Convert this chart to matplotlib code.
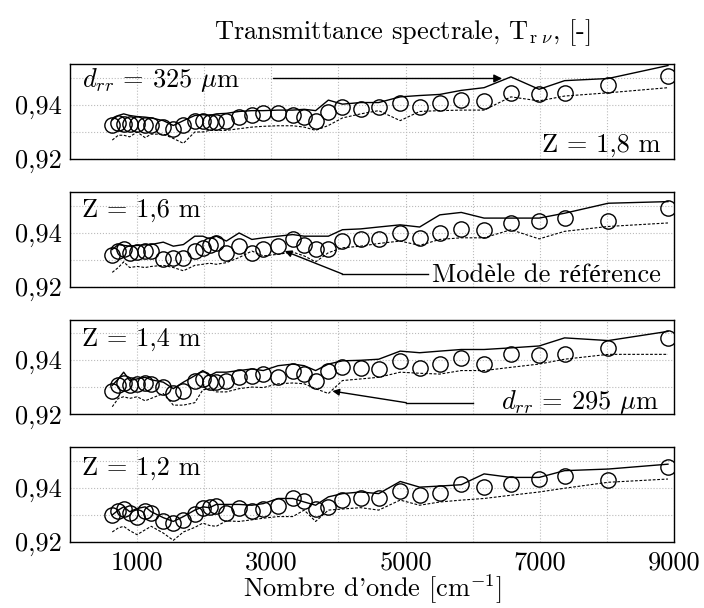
import numpy as np
import matplotlib
matplotlib.use("Agg")
import matplotlib.pyplot as plt

plt.rcParams['font.family'] = ['cmr10', 'Liberation Serif']
plt.rcParams['mathtext.fontset'] = 'cm'
plt.rcParams['axes.unicode_minus'] = False
plt.rcParams['axes.formatter.use_mathtext'] = True

# wavenumbers [cm-1]
nu = [630, 720, 800, 890, 1000, 1120, 1210, 1390, 1540, 1690, 1860, 1980,
      2080, 2180, 2330, 2520, 2710, 2880, 3100, 3320, 3490, 3660, 3850, 4060,
      4330, 4600, 4920, 5210, 5510, 5830, 6170, 6570, 6990, 7370, 8020, 8910]

# Z = 1,8 m
mes_18 = [0.9324, 0.9333, 0.9330, 0.9328, 0.9328, 0.9327, 0.9324, 0.9318, 0.9312,
          0.9324, 0.9342, 0.9342, 0.9336, 0.9336, 0.9342, 0.9355, 0.9364, 0.9369,
          0.9369, 0.9363, 0.9357, 0.9342, 0.9373, 0.9391, 0.9385, 0.9391, 0.9409,
          0.9393, 0.9409, 0.9418, 0.9415, 0.9445, 0.9439, 0.9445, 0.9473, 0.9506]
d325_18 = [0.9345, 0.9361, 0.9367, 0.9361, 0.9357, 0.9355, 0.9352, 0.9342, 0.9324,
           0.9342, 0.9361, 0.9364, 0.9361, 0.9367, 0.9369, 0.9376, 0.9379, 0.9379,
           0.9381, 0.9381, 0.9384, 0.9379, 0.9418, 0.9403, 0.9409, 0.9409, 0.9430,
           0.9435, 0.9439, 0.9454, 0.9464, 0.9504, 0.9458, 0.9490, 0.9498, 0.9546]
d295_18 = [0.9270, 0.9288, 0.9288, 0.9282, 0.9300, 0.9279, 0.9292, 0.9292, 0.9276,
           0.9258, 0.9300, 0.9300, 0.9306, 0.9306, 0.9306, 0.9312, 0.9318, 0.9321,
           0.9323, 0.9323, 0.9318, 0.9306, 0.9324, 0.9352, 0.9367, 0.9379, 0.9342,
           0.9376, 0.9379, 0.9381, 0.9381, 0.9430, 0.9415, 0.9433, 0.9445, 0.9464]

# Z = 1,6 m
mes_16 = [0.9317, 0.9333, 0.9339, 0.9327, 0.9329, 0.9333, 0.9335, 0.9302, 0.9309,
          0.9309, 0.9333, 0.9345, 0.9357, 0.9363, 0.9327, 0.9351, 0.9327, 0.9341,
          0.9351, 0.9376, 0.9357, 0.9341, 0.9341, 0.9370, 0.9376, 0.9376, 0.9400,
          0.9382, 0.9400, 0.9415, 0.9412, 0.9437, 0.9443, 0.9455, 0.9443, 0.9491]
d325_16 = [0.9339, 0.9357, 0.9354, 0.9351, 0.9354, 0.9356, 0.9357, 0.9366, 0.9351,
           0.9357, 0.9388, 0.9388, 0.9378, 0.9388, 0.9370, 0.9400, 0.9376, 0.9382,
           0.9388, 0.9394, 0.9388, 0.9388, 0.9388, 0.9412, 0.9415, 0.9422, 0.9430,
           0.9422, 0.9467, 0.9476, 0.9455, 0.9455, 0.9455, 0.9473, 0.9510, 0.9516]
d295_16 = [0.9254, 0.9272, 0.9293, 0.9272, 0.9276, 0.9272, 0.9276, 0.9280, 0.9272,
           0.9260, 0.9280, 0.9284, 0.9288, 0.9284, 0.9290, 0.9309, 0.9333, 0.9315,
           0.9321, 0.9329, 0.9315, 0.9293, 0.9327, 0.9345, 0.9351, 0.9361, 0.9370,
           0.9354, 0.9376, 0.9382, 0.9382, 0.9412, 0.9378, 0.9406, 0.9424, 0.9437]

# Z = 1,4 m
mes_14 = [0.9285, 0.9306, 0.9315, 0.9306, 0.9312, 0.9315, 0.9310, 0.9300, 0.9278,
          0.9285, 0.9324, 0.9330, 0.9318, 0.9318, 0.9324, 0.9336, 0.9342, 0.9348,
          0.9336, 0.9361, 0.9348, 0.9324, 0.9361, 0.9375, 0.9370, 0.9367, 0.9397,
          0.9370, 0.9385, 0.9409, 0.9387, 0.9424, 0.9419, 0.9421, 0.9443, 0.9482]
d325_14 = [0.9306, 0.9330, 0.9355, 0.9324, 0.9330, 0.9336, 0.9327, 0.9318, 0.9294,
           0.9318, 0.9342, 0.9361, 0.9342, 0.9355, 0.9355, 0.9361, 0.9367, 0.9361,
           0.9379, 0.9385, 0.9379, 0.9361, 0.9385, 0.9397, 0.9399, 0.9403, 0.9433,
           0.9427, 0.9433, 0.9439, 0.9439, 0.9445, 0.9452, 0.9482, 0.9472, 0.9506]
d295_14 = [0.9227, 0.9258, 0.9264, 0.9258, 0.9264, 0.9249, 0.9258, 0.9276, 0.9233,
           0.9233, 0.9242, 0.9290, 0.9294, 0.9282, 0.9282, 0.9294, 0.9300, 0.9298,
           0.9312, 0.9315, 0.9312, 0.9294, 0.9276, 0.9324, 0.9330, 0.9336, 0.9355,
           0.9351, 0.9348, 0.9361, 0.9361, 0.9373, 0.9385, 0.9403, 0.9421, 0.9421]

# Z = 1,2 m
mes_12 = [0.9300, 0.9315, 0.9322, 0.9306, 0.9294, 0.9316, 0.9306, 0.9278, 0.9270,
          0.9282, 0.9304, 0.9324, 0.9330, 0.9333, 0.9306, 0.9324, 0.9315, 0.9321,
          0.9333, 0.9363, 0.9351, 0.9322, 0.9330, 0.9355, 0.9364, 0.9361, 0.9387,
          0.9373, 0.9381, 0.9415, 0.9403, 0.9415, 0.9433, 0.9445, 0.9430, 0.9476]
d325_12 = [0.9300, 0.9318, 0.9330, 0.9312, 0.9324, 0.9330, 0.9312, 0.9290, 0.9276,
           0.9294, 0.9318, 0.9330, 0.9327, 0.9339, 0.9339, 0.9339, 0.9336, 0.9342,
           0.9361, 0.9361, 0.9348, 0.9336, 0.9367, 0.9379, 0.9385, 0.9379, 0.9424,
           0.9403, 0.9407, 0.9412, 0.9452, 0.9439, 0.9439, 0.9464, 0.9470, 0.9488]
d295_12 = [0.9237, 0.9252, 0.9258, 0.9242, 0.9227, 0.9245, 0.9258, 0.9233, 0.9206,
           0.9237, 0.9254, 0.9270, 0.9261, 0.9258, 0.9278, 0.9276, 0.9282, 0.9288,
           0.9294, 0.9294, 0.9318, 0.9276, 0.9318, 0.9322, 0.9327, 0.9318, 0.9355,
           0.9336, 0.9348, 0.9355, 0.9361, 0.9373, 0.9385, 0.9399, 0.9421, 0.9433]

heights = ['1,8', '1,6', '1,4', '1,2']
mesures = [mes_18, mes_16, mes_14, mes_12]
calc_325 = [d325_18, d325_16, d325_14, d325_12]
calc_295 = [d295_18, d295_16, d295_14, d295_12]

xticks = [1000, 2000, 3000, 4000, 5000, 6000, 7000, 8000, 9000]
xticklabels = ['1000', '', '3000', '', '5000', '', '7000', '', '9000']
yticks = [0.92, 0.93, 0.94, 0.95]
yticklabels = ['0,92', '', '0,94', '']

fs = 19
fig = plt.figure(figsize=(7.04, 6.08), dpi=100)
bottoms = [0.7385, 0.528, 0.319, 0.1086]
axes = []
for i in range(4):
    ax = fig.add_axes([0.0994, bottoms[i], 0.858, 0.1555])
    ax.plot(nu, calc_325[i], color='black', lw=1.0)
    ax.plot(nu, calc_295[i], color='black', lw=0.8, dashes=(2.5, 1.5))
    ax.plot(nu, mesures[i], 'o', mfc='none', mec='black', ms=11, mew=1.0)
    ax.set_xlim(0, 9000)
    ax.set_ylim(0.92, 0.955)
    ax.set_xticks(xticks)
    ax.set_yticks(yticks)
    ax.set_yticklabels(yticklabels)
    if i == 3:
        ax.set_xticklabels(xticklabels)
    else:
        ax.set_xticklabels([])
    ax.tick_params(length=0, labelsize=fs, pad=6)
    ax.grid(True, color='#bbbbbb', linestyle=':', lw=0.8)
    ax.set_axisbelow(True)
    for s in ax.spines.values():
        s.set_linewidth(1.0)
    axes.append(ax)

# annotations
ax = axes[0]
ax.text(183, 0.9494, r'$d_{rr}$ = 325 $\mu$m', fontsize=fs, va='center', ha='left')
ax.annotate('', xy=(6480, 0.9498), xytext=(2990, 0.9498),
            arrowprops=dict(arrowstyle='-|>', color='black', lw=1.0, mutation_scale=12))
ax.text(8800, 0.925, 'Z = ' + heights[0] + ' m', fontsize=fs, va='center', ha='right')

ax = axes[1]
ax.text(183, 0.9483, 'Z = ' + heights[1] + ' m', fontsize=fs, va='center', ha='left')
ax.text(8800, 0.9244, 'Modèle de référence', fontsize=fs, va='center', ha='right')
ax.plot([5330, 4060], [0.9248, 0.9248], color='black', lw=1.0)
ax.annotate('', xy=(3200, 0.9333), xytext=(4060, 0.9248),
            arrowprops=dict(arrowstyle='-|>', color='black', lw=1.0, mutation_scale=10,
                            shrinkA=0, shrinkB=0))

ax = axes[2]
ax.text(183, 0.9476, 'Z = ' + heights[2] + ' m', fontsize=fs, va='center', ha='left')
ax.text(8780, 0.9245, r'$d_{rr}$ = 295 $\mu$m', fontsize=fs, va='center', ha='right')
ax.plot([6010, 5010], [0.9242, 0.9242], color='black', lw=1.0)
ax.annotate('', xy=(3910, 0.9285), xytext=(5010, 0.9242),
            arrowprops=dict(arrowstyle='-|>', color='black', lw=1.0, mutation_scale=10,
                            shrinkA=0, shrinkB=0))

ax = axes[3]
ax.text(183, 0.9472, 'Z = ' + heights[3] + ' m', fontsize=fs, va='center', ha='left')
ax.set_xlabel("Nombre d'onde [cm$^{-1}$]", fontsize=fs, labelpad=-1)

axes[0].set_title(r'Transmittance spectrale, T$_{\mathrm{r}\ \nu}$, [-]', fontsize=fs,
                  pad=18, x=0.55)

fig.savefig('out.png', dpi=100)
